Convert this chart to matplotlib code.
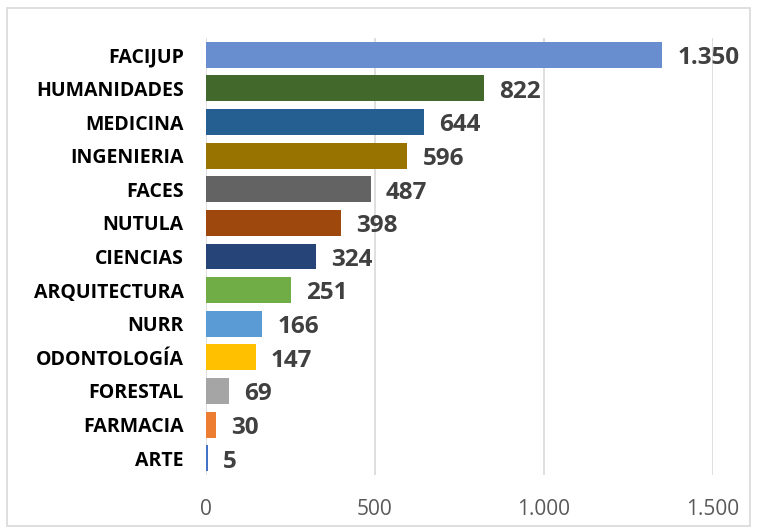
import numpy as np
import matplotlib.pyplot as plt
from matplotlib.patches import Rectangle

# data
facultades = ['FACIJUP', 'HUMANIDADES', 'MEDICINA', 'INGENIERIA', 'FACES', 'NUTULA',
              'CIENCIAS', 'ARQUITECTURA', 'NURR', 'ODONTOLOGÍA', 'FORESTAL', 'FARMACIA', 'ARTE']
valores = [1350, 822, 644, 596, 487, 398, 324, 251, 166, 147, 69, 30, 5]
colores = ['#698ED0', '#43682B', '#255E91', '#997300', '#636363', '#9E480E', '#264478',
           '#70AD47', '#5B9BD5', '#FFC000', '#A5A5A5', '#ED7D31', '#4472C4']
ticks = [0, 500, 1000, 1500]

plt.rcParams['font.family'] = ['Open Sans', 'DejaVu Sans']

fig = plt.figure(figsize=(7.57, 5.32), dpi=100)
ax = fig.add_axes([206/757, 1 - 475/532, (713 - 206)/757, (475 - 38)/532])

y = np.arange(len(facultades))
ax.barh(y, valores, height=0.77, color=colores, zorder=3)
ax.set_ylim(len(facultades) - 0.5, -0.5)
ax.set_xlim(0, 1500)

def fmt(v):
    return f"{v:,}".replace(',', '.')

for yi, v in zip(y, valores):
    ax.text(v + 45, yi + 0.1, fmt(v), va='center', ha='left', fontsize=17.5,
            fontweight='bold', color='#404040', zorder=4)

ax.set_yticks(y)
ax.set_yticklabels(facultades, fontsize=14, fontweight='bold', color='black')
ax.set_xticks(ticks)
ax.set_xticklabels([fmt(t) for t in ticks], fontsize=15, color='#595959')
ax.tick_params(length=0)
ax.tick_params(axis='y', pad=16)
ax.tick_params(axis='x', pad=17)

ax.grid(axis='x', color='#D9D9D9', linewidth=1.2, zorder=0)
for s in ax.spines.values():
    s.set_visible(False)

fig.patches.append(Rectangle((7/757, 6/532), 743/757, 518/532, transform=fig.transFigure,
                             fill=False, edgecolor='#D9D9D9', linewidth=1.2))

plt.savefig('out.png', dpi=100)
